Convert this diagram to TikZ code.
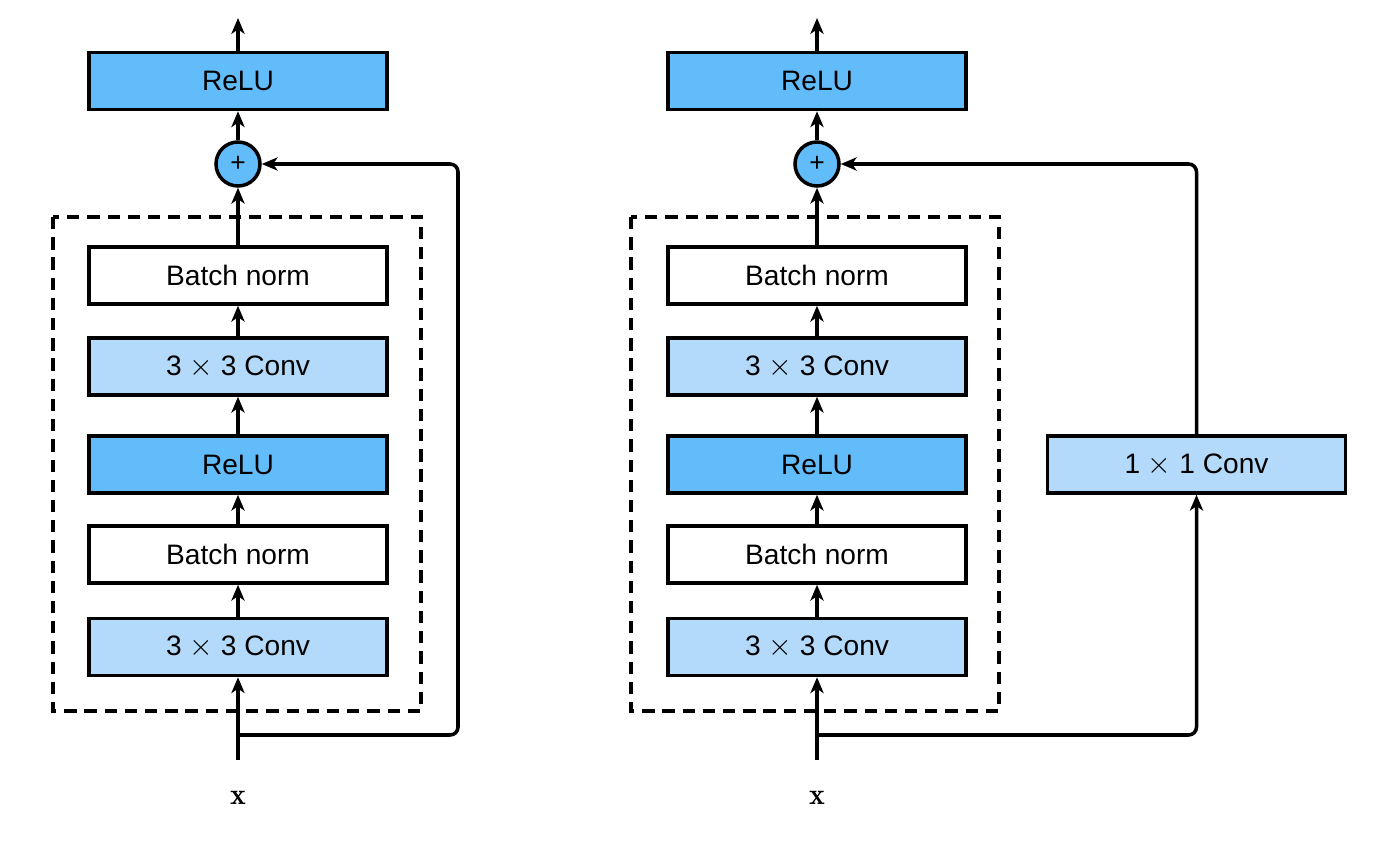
\documentclass[tikz,border=0pt]{standalone}
\usepackage{amsmath,amssymb}
\usepackage{fontspec}
\newfontfamily\helv{Liberation Sans}
\usetikzlibrary{positioning,calc,arrows.meta}
\definecolor{relublue}{RGB}{99,188,250}
\definecolor{convblue}{RGB}{179,218,251}

\begin{document}
\begin{tikzpicture}[
    line width=2pt,
    layer/.style={draw, minimum width=5.96cm, minimum height=1.14cm, inner sep=0pt, font=\helv\fontsize{16}{19}\selectfont},
    relu/.style={layer, fill=relublue},
    conv/.style={layer, fill=convblue},
    bnorm/.style={layer, fill=white},
    addop/.style={draw, circle, fill=relublue, minimum size=0.88cm, inner sep=0pt, font=\helv\fontsize{15}{17}\selectfont},
    flow/.style={-{Stealth[length=9pt,width=7.5pt,inset=2.5pt]}},
    block/.style={dashed, dash pattern=on 7pt off 4.5pt},
    inlabel/.style={font=\fontsize{17}{20}\selectfont}
]
\useasboundingbox (0,0) rectangle (28,-17.04);

% Left: residual block with identity shortcut
\node[relu]  (outL)   at (4.76,-1.62)  {ReLU};
\node[addop] (addL)   at (4.76,-3.28)  {+};
\node[bnorm] (bn2L)   at (4.76,-5.51)  {Batch norm};
\node[conv]  (conv2L) at (4.76,-7.33)  {3 $\times$ 3 Conv};
\node[relu]  (reluL)  at (4.76,-9.29)  {ReLU};
\node[bnorm] (bn1L)   at (4.76,-11.09) {Batch norm};
\node[conv]  (conv1L) at (4.76,-12.94) {3 $\times$ 3 Conv};
\node[inlabel] (xL)   at (4.76,-15.96) {$\mathbf{x}$};
\coordinate (inL)    at (4.76,-15.2);
\coordinate (splitL) at (4.76,-14.7);
\coordinate (skipL)  at (9.16,0);
\coordinate (topL)   at (4.76,-0.36);

\draw[block] (1.06,-4.34) rectangle (8.42,-14.22);

\draw[flow] (inL) -- (conv1L);
\draw[flow] (conv1L) -- (bn1L);
\draw[flow] (bn1L) -- (reluL);
\draw[flow] (reluL) -- (conv2L);
\draw[flow] (conv2L) -- (bn2L);
\draw[flow] (bn2L) -- (addL);
\draw[flow] (addL) -- (outL);
\draw[flow] (outL) -- (topL);
\draw[flow, rounded corners=4.5pt] (splitL) -- (skipL |- splitL) -- (skipL |- addL) -- (addL);

% Right: residual block with 1x1 conv shortcut
\node[relu]  (outR)   at (16.34,-1.62)  {ReLU};
\node[addop] (addR)   at (16.34,-3.28)  {+};
\node[bnorm] (bn2R)   at (16.34,-5.51)  {Batch norm};
\node[conv]  (conv2R) at (16.34,-7.33)  {3 $\times$ 3 Conv};
\node[relu]  (reluR)  at (16.34,-9.29)  {ReLU};
\node[bnorm] (bn1R)   at (16.34,-11.09) {Batch norm};
\node[conv]  (conv1R) at (16.34,-12.94) {3 $\times$ 3 Conv};
\node[conv]  (convS)  at (23.93,-9.29)  {1 $\times$ 1 Conv};
\node[inlabel] (xR)   at (16.34,-15.96) {$\mathbf{x}$};
\coordinate (inR)    at (16.34,-15.2);
\coordinate (splitR) at (16.34,-14.7);
\coordinate (topR)   at (16.34,-0.36);

\draw[block] (12.62,-4.34) rectangle (19.98,-14.22);

\draw[flow] (inR) -- (conv1R);
\draw[flow] (conv1R) -- (bn1R);
\draw[flow] (bn1R) -- (reluR);
\draw[flow] (reluR) -- (conv2R);
\draw[flow] (conv2R) -- (bn2R);
\draw[flow] (bn2R) -- (addR);
\draw[flow] (addR) -- (outR);
\draw[flow] (outR) -- (topR);
\draw[flow, rounded corners=4.5pt] (splitR) -- (convS |- splitR) -- (convS.south);
\draw[flow, rounded corners=4.5pt] (convS.north) |- (addR);

\end{tikzpicture}
\end{document}
